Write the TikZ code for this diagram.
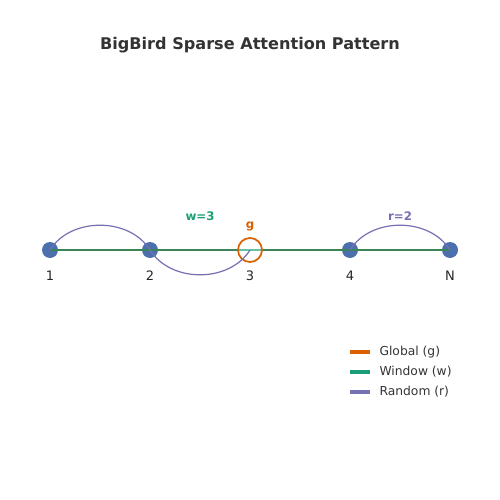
\documentclass[tikz,border=0pt]{standalone}
\usepackage{fontspec}
\setmainfont{DejaVu Sans}
\definecolor{nodeblue}{HTML}{4C6FAE}
\definecolor{gorange}{HTML}{D95F02}
\definecolor{wgreen}{HTML}{1B9E77}
\definecolor{wline}{HTML}{3A8558}
\definecolor{wlight}{HTML}{66C2A5}
\definecolor{rpurple}{HTML}{7570B3}
\definecolor{txt}{HTML}{333333}
\begin{document}
\begin{tikzpicture}[x=1pt,y=-1pt,
  tok/.style={circle,fill=nodeblue,minimum size=16pt,inner sep=0pt},
  lab/.style={text=black!85,font=\fontsize{13}{15}\selectfont},
  rand/.style={draw=rpurple,line width=1.2pt},
  legline/.style={line width=4pt},
  legtxt/.style={anchor=west,text=txt,font=\fontsize{12.3}{14}\selectfont},
  annot/.style={font=\bfseries\fontsize{11.8}{14}\selectfont}]
\useasboundingbox (0,0) rectangle (500,500);
\node[font=\bfseries\fontsize{16.1}{19}\selectfont,text=txt] (title) at (250,45) {BigBird Sparse Attention Pattern};
\node[tok] (n1) at (50,250) {};
\node[tok] (n2) at (150,250) {};
\node[tok] (n3) at (250,250) {};
\node[tok] (n4) at (350,250) {};
\node[tok] (nN) at (450,250) {};
\fill[white] (n3) circle (12);
\draw[wline,line width=1.7pt] (n1.center) -- (n2.center) -- (n3.center) -- (n4.center) -- (nN.center);
\draw[wlight,line width=1.7pt] (238,250) -- (262,250);
\draw[gorange,line width=1.7pt] (n3) circle (12);
\draw[rand] (n1.center) to[out=58,in=122] (n2.center);
\draw[rand] (n2.center) to[out=-58,in=-122] (n3.center);
\draw[rand] (n4.center) to[out=58,in=122] (nN.center);
\node[lab] (l1) at (50,276) {1};
\node[lab] (l2) at (150,276) {2};
\node[lab] (l3) at (250,276) {3};
\node[lab] (l4) at (350,276) {4};
\node[lab] (lN) at (450,276) {N};
\node[annot,text=wgreen] (wlab) at (200,216) {w=3};
\node[annot,text=gorange] (glab) at (250,226) {g};
\node[annot,text=rpurple] (rlab) at (400,216) {r=2};
\coordinate (g1) at (350,352); \coordinate (g2) at (370,352);
\coordinate (w1) at (350,372); \coordinate (w2) at (370,372);
\coordinate (r1) at (350,392); \coordinate (r2) at (370,392);
\draw[legline,gorange] (g1) -- (g2);
\draw[legline,wgreen] (w1) -- (w2);
\draw[legline,rpurple] (r1) -- (r2);
\node[legtxt] (gt) at (376,352) {Global (g)};
\node[legtxt] (wt) at (376,372) {Window (w)};
\node[legtxt] (rt) at (376,392) {Random (r)};
\end{tikzpicture}
\end{document}
